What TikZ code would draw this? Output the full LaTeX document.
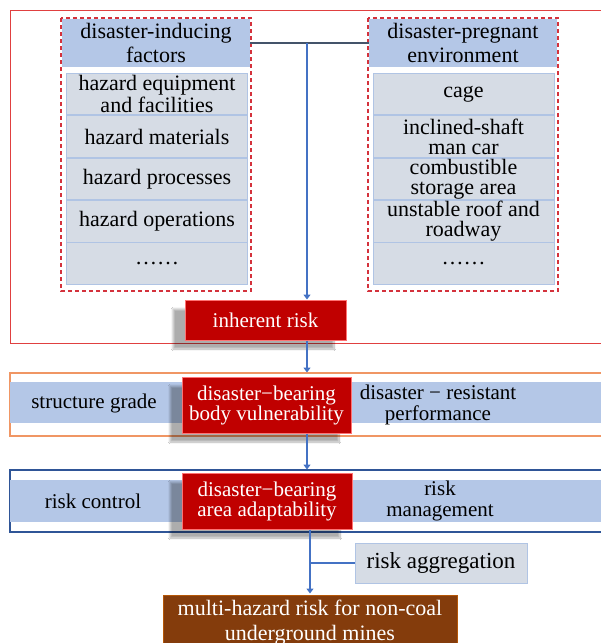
\documentclass[tikz,border=0pt]{standalone}
\usepackage{fontspec}
\setmainfont{Liberation Serif}
\usetikzlibrary{arrows.meta,shadows.blur}
\definecolor{headblue}{RGB}{180,199,231}
\definecolor{itemgrey}{RGB}{214,220,229}
\definecolor{itemedge}{RGB}{176,196,228}
\definecolor{riskred}{RGB}{192,0,0}
\definecolor{minebrown}{RGB}{132,60,12}
\definecolor{flowblue}{RGB}{68,114,196}
\definecolor{linkgrey}{RGB}{68,84,106}
\definecolor{frameorange}{RGB}{240,150,100}
\definecolor{frameblue}{RGB}{47,85,151}
\definecolor{framered}{RGB}{224,64,64}
\definecolor{dashred}{RGB}{212,50,60}
\tikzset{
  head/.style={fill=headblue, minimum width=188pt, minimum height=48pt, inner sep=0pt,
    align=center, font=\fontsize{22}{24.5}\selectfont},
  item/.style={fill=itemgrey, draw=itemedge, line width=0.8pt, minimum width=181pt,
    minimum height=41.5pt, inner sep=0pt, align=center, font=\fontsize{22}{20}\selectfont},
  riskbox/.style={fill=riskred, draw=red!55!white, line width=1pt, text=white, inner sep=0pt,
    align=center, font=\fontsize{21}{20}\selectfont,
    blur shadow={shadow xshift=-12pt, shadow yshift=-9pt, shadow blur steps=12,
      shadow opacity=32}},
  bandtext/.style={inner sep=0pt, align=center, font=\fontsize{21}{21}\selectfont},
  dashbox/.style={draw=dashred, line width=1.4pt, dash pattern=on 4pt off 3pt},
  flow/.style={draw=flowblue, line width=2.5pt},
  flowarrow/.style={flow, -{Triangle[width=7pt,length=5pt]}},
}
\begin{document}
\begin{tikzpicture}[x=1pt,y=-1pt]
\useasboundingbox (0,0) rectangle (601,643);
\clip (0,0) rectangle (601,643);
\fill[white] (0,0) rectangle (601,643);

\draw[framered, line width=1pt] (10,10) rectangle (620,343);
\draw[frameorange, line width=1.2pt] (10,373) rectangle (620,436);
\draw[frameblue, line width=1.2pt] (10,470) rectangle (620,532);

% left column
\draw[dashbox] (61,18) rectangle (251,291);
\node[head] (lhead) at (156,43) {disaster-inducing\\factors};
\node[item] (l1) at (157,94) {hazard equipment\\and facilities};
\node[item] (l2) at (157,136.5) {hazard materials};
\node[item] (l3) at (157,179) {hazard processes};
\node[item] (l4) at (157,221.5) {hazard operations};
\node[item] (l5) at (157,263.5) {……};

% right column
\draw[dashbox] (368,18) rectangle (558,291);
\node[head] (rhead) at (463,43) {disaster-pregnant\\environment};
\node[item] (r1) at (463.5,94) {cage};
\node[item] (r2) at (463.5,136.5) {inclined-shaft\\man car};
\node[item] (r3) at (463.5,179) {combustible\\storage area};
\node[item] (r4) at (463.5,221.5) {unstable roof and\\roadway};
\node[item] (r5) at (463.5,263.5) {……};

% bands
\fill[headblue] (10,382) rectangle (182,423);
\fill[headblue] (351,382) rectangle (610,423);
\fill[headblue] (10,480) rectangle (182,522);
\fill[headblue] (351,480) rectangle (610,522);
\node[bandtext] (grade) at (94,403) {structure grade};
\node[bandtext] (resist) at (438,405) {disaster − resistant\\performance};
\node[bandtext] (control) at (93,501) {risk control};
\node[bandtext] (manage) at (440,501) {risk\\management};

\node[riskbox, minimum width=161pt, minimum height=40pt] (inh) at (265.5,320) {inherent risk};
\node[riskbox, minimum width=169pt, minimum height=56pt] (dbbv) at (266.5,405) {disaster−bearing\\body vulnerability};
\node[riskbox, minimum width=170pt, minimum height=56pt] (dbaa) at (267,501) {disaster−bearing\\area adaptability};

\node[fill=itemgrey, draw=itemedge, line width=0.8pt, minimum width=172pt, minimum height=40pt,
  inner sep=0pt, font=\fontsize{23}{23}\selectfont] (ragg) at (441,563) {risk aggregation};
\node[fill=minebrown, draw=orange!40!minebrown, line width=1pt, text=white, minimum width=294pt,
  minimum height=56pt, inner sep=0pt, align=center, font=\fontsize{22}{25}\selectfont]
  (mine) at (310,623) {multi-hazard risk for non-coal\\underground mines};

% connectors
\coordinate (join) at (307,43);
\coordinate (agg) at (310,563);
\draw[linkgrey, line width=1.5pt] (lhead.east) -- (rhead.west);
\draw[flowarrow] (join) -- (join |- inh.north);
\draw[flowarrow, shorten >=4pt] (inh.south -| join) -- (dbbv.north -| join);
\draw[flowarrow, shorten >=3pt] (dbbv.south -| join) -- (dbaa.north -| join);
\draw[flow] (dbaa.south -| agg) -- (agg) -- (ragg.west);
\draw[flowarrow, shorten >=1pt] (agg) -- (mine.north -| agg);

\end{tikzpicture}
\end{document}
